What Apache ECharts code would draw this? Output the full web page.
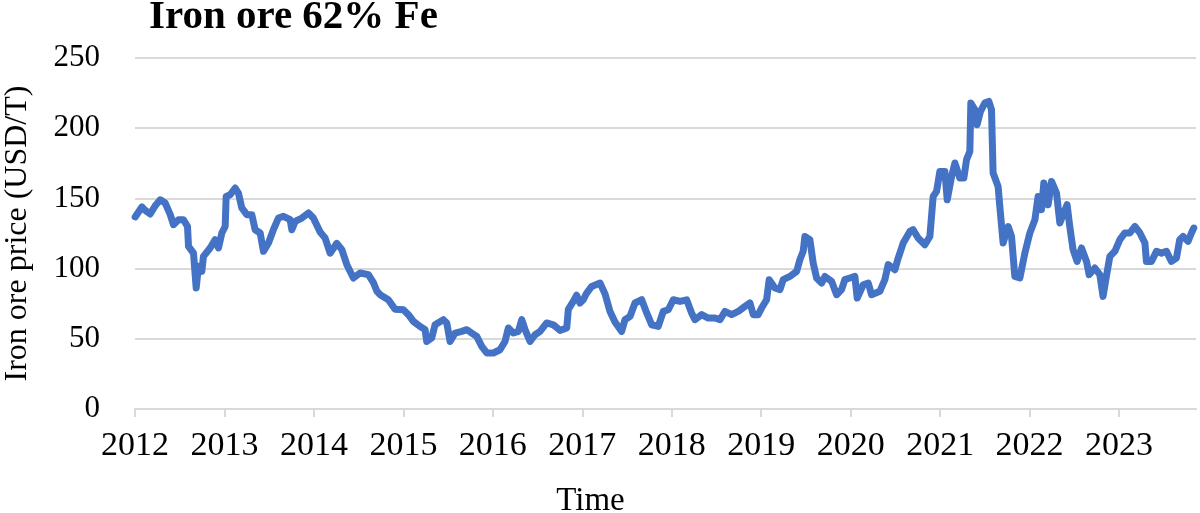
<!DOCTYPE html>
<html>
<head>
<meta charset="utf-8">
<script src="https://cdn.jsdelivr.net/npm/echarts@6/dist/echarts.min.js"></script>
<style>html,body{margin:0;padding:0;background:#fff;}#c{width:1200px;height:513px;}</style>
</head>
<body>
<div id="c"></div>
<script>
const titleText = 'Iron ore 62% Fe';
const xName = 'Time';
const yName = 'Iron ore price (USD/T)';
const tickYears = [2012,2013,2014,2015,2016,2017,2018,2019,2020,2021,2022,2023];
const yTicks = [0,50,100,150,200,250];
const years = [
2012.002,2012.077,2012.114,2012.170,2012.226,2012.282,2012.338,2012.394,2012.430,2012.486,2012.542,2012.587,2012.598,2012.654,2012.684,2012.709,2012.747,2012.765,2012.840,2012.896,2012.933,2012.971,2013.008,2013.019,2013.064,2013.120,2013.156,2013.194,2013.250,2013.306,2013.343,2013.399,2013.436,2013.492,2013.547,2013.603,2013.659,2013.734,2013.753,2013.790,2013.865,2013.939,2013.994,
2014.069,2014.125,2014.181,2014.256,2014.312,2014.368,2014.441,2014.516,2014.609,2014.665,2014.703,2014.740,2014.832,2014.907,2015.000,2015.056,2015.112,2015.187,2015.243,2015.261,2015.317,2015.354,2015.447,2015.485,2015.522,2015.578,2015.653,2015.708,2015.764,2015.820,2015.876,2015.932,2016.006,2016.080,2016.136,2016.173,2016.229,2016.285,2016.323,2016.360,2016.416,2016.472,2016.528,2016.602,2016.676,2016.751,2016.826,2016.844,2016.899,2016.937,2016.974,2017.011,2017.049,2017.105,2017.198,2017.254,2017.310,2017.365,2017.440,2017.477,2017.534,2017.589,2017.664,2017.720,2017.776,2017.849,2017.905,2017.961,
2018.017,2018.092,2018.166,2018.222,2018.259,2018.334,2018.408,2018.483,2018.539,2018.594,2018.669,2018.743,2018.818,2018.874,2018.911,2018.966,2019.004,2019.060,2019.089,2019.153,2019.209,2019.246,2019.320,2019.396,2019.432,2019.469,2019.488,2019.544,2019.581,2019.619,2019.675,2019.712,2019.787,2019.843,2019.898,2019.935,2019.991,2020.047,2020.073,2020.140,2020.196,2020.234,2020.326,2020.382,2020.419,2020.494,2020.531,2020.587,2020.662,2020.698,2020.754,2020.829,2020.885,2020.922,2020.960,2020.997,2021.053,2021.079,2021.128,2021.165,2021.220,2021.265,2021.295,2021.332,2021.343,2021.388,2021.413,2021.451,2021.499,2021.544,2021.574,2021.592,2021.648,2021.667,2021.704,2021.760,2021.798,2021.835,2021.891,2021.947,
2022.003,2022.059,2022.095,2022.133,2022.159,2022.207,2022.245,2022.301,2022.338,2022.382,2022.419,2022.449,2022.486,2022.531,2022.580,2022.636,2022.665,2022.729,2022.785,2022.821,2022.858,2022.897,2022.953,2023.009,2023.065,2023.121,2023.177,2023.233,2023.289,2023.306,2023.362,2023.418,2023.474,2023.530,2023.585,2023.641,2023.678,2023.715,2023.771,2023.809,2023.835
];
const prices = [
136.8,143.9,141.5,138.9,144.8,149.0,146.7,138.4,131.3,134.8,134.8,130.0,115.8,111.0,86.2,101.6,98.0,108.7,114.7,120.6,114.7,125.4,130.0,151.4,152.6,157.4,153.8,143.2,138.4,138.4,127.7,125.4,112.3,118.2,127.7,136.0,137.2,134.8,127.7,133.6,136.0,139.6,136.0,
126.0,121.8,111.0,118.0,113.5,102.8,93.3,96.9,95.7,90.0,84.0,81.4,77.8,71.0,70.7,67.2,62.4,58.8,56.5,48.1,50.6,60.0,63.6,61.3,48.1,54.1,55.3,56.5,54.1,51.7,44.6,39.9,39.9,42.2,48.1,57.7,54.1,55.3,63.6,56.5,48.1,52.9,55.3,61.3,60.0,56.0,57.7,71.0,76.6,81.0,75.5,77.8,82.6,87.3,89.7,82.0,69.5,62.0,55.3,63.6,66.0,75.5,77.8,68.4,60.0,58.8,69.5,70.7,
77.8,76.6,77.8,68.4,63.6,67.2,64.8,64.8,63.6,69.5,67.2,69.5,73.1,75.5,67.2,67.2,71.9,77.8,92.1,86.2,85.0,92.1,94.4,98.0,106.3,112.3,122.9,120.6,104.0,93.3,89.7,94.4,90.9,81.4,85.0,92.1,93.3,94.4,79.0,88.5,89.7,81.4,83.8,92.1,102.8,99.2,107.5,118.2,126.5,127.7,121.8,117.0,122.9,151.4,155.0,169.2,169.2,149.0,165.7,175.2,164.5,164.5,177.6,183.5,217.9,213.2,202.5,212.0,217.9,219.1,213.2,168.1,158.5,144.3,118.2,130.0,122.9,94.4,93.3,111.0,
125.4,134.8,151.4,142.0,161.0,145.5,162.1,153.8,132.5,139.6,145.5,130.0,113.5,105.1,114.7,105.1,95.7,100.4,95.7,80.2,94.4,108.7,112.3,120.6,125.4,125.4,130.0,125.4,118.2,105.1,105.1,112.3,111.0,112.3,105.1,107.5,120.6,122.9,119.4,125.4,128.9
];
const seriesData = years.map((y, i) => [y, prices[i]]);

const chart = echarts.init(document.getElementById('c'), null, {renderer: 'canvas'});
const serif = 'Liberation Serif';
chart.setOption({
  animation: false,
  backgroundColor: '#ffffff',
  title: {
    text: titleText,
    left: 149,
    top: -3,
    padding: 0,
    textStyle: {fontFamily: serif, fontWeight: 'bold', fontSize: 41, color: '#000'}
  },
  grid: {left: 135, right: 4, top: 58, bottom: 104, containLabel: false, outerBoundsMode: 'none'},
  xAxis: {
    type: 'value',
    min: 2012,
    max: 2023.86,
    interval: 1,
    name: xName,
    nameLocation: 'middle',
    nameGap: 76,
    nameTextStyle: {fontFamily: serif, fontSize: 33, color: '#000', padding: [0, 150, 0, 0]},
    axisLine: {show: true, lineStyle: {color: '#d9d9d9', width: 2}},
    axisTick: {show: true, length: 8, customValues: tickYears, lineStyle: {color: '#d9d9d9', width: 2}},
    axisLabel: {customValues: tickYears, fontFamily: serif, fontSize: 34, color: '#000', margin: 20,
      formatter: v => String(Math.round(v))},
    splitLine: {show: false}
  },
  yAxis: {
    type: 'value',
    min: 0,
    max: 250,
    interval: 50,
    name: yName,
    nameLocation: 'middle',
    nameGap: 101,
    nameRotate: 90,
    nameTextStyle: {fontFamily: serif, fontSize: 32, color: '#000'},
    axisLine: {show: false},
    axisTick: {show: false},
    axisLabel: {customValues: yTicks, fontFamily: serif, fontSize: 31, color: '#000', margin: 35},
    splitLine: {show: true, lineStyle: {color: '#d9d9d9', width: 2}}
  },
  series: [{
    type: 'line',
    data: seriesData,
    showSymbol: false,
    symbol: 'none',
    lineStyle: {color: '#4472C4', width: 7, join: 'round', cap: 'round'},
    itemStyle: {color: '#4472C4'}
  }]
});
</script>
</body>
</html>
